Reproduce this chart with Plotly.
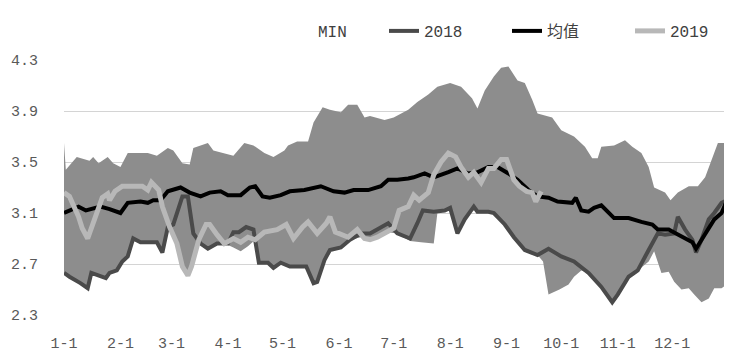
import plotly.graph_objects as go

# ---- data (x = day of year, 0 = Jan 1) ----
month_days = [0, 31, 59, 90, 120, 151, 181, 212, 243, 273, 304, 334]
month_labels = ["1-1", "2-1", "3-1", "4-1", "5-1", "6-1", "7-1", "8-1", "9-1", "10-1", "11-1", "12-1"]
y_ticks = [2.3, 2.7, 3.1, 3.5, 3.9, 4.3]

max_days = [0, 1, 7, 14, 16, 19, 24, 27, 31, 35, 46, 51, 57, 60, 65, 69, 71, 79, 82, 93, 99, 104,
            110, 115, 121, 123, 128, 134, 137, 142, 146, 152, 156, 161, 165, 168, 176, 181, 189,
            194, 200, 205, 212, 218, 224, 227, 231, 236, 240, 244, 249, 253, 257, 260, 268, 273,
            280, 286, 290, 293, 295, 302, 308, 312, 317, 321, 324, 330, 333, 337, 343, 348, 352,
            356, 359, 364]
max_vals = [3.65, 3.44, 3.54, 3.51, 3.54, 3.49, 3.54, 3.49, 3.46, 3.57, 3.57, 3.55, 3.61, 3.59,
            3.49, 3.48, 3.61, 3.65, 3.59, 3.55, 3.65, 3.63, 3.57, 3.54, 3.59, 3.63, 3.66, 3.66,
            3.81, 3.93, 3.91, 3.89, 3.95, 3.95, 3.85, 3.86, 3.83, 3.85, 3.91, 3.97, 4.03, 4.09,
            4.12, 4.09, 4.00, 3.92, 4.06, 4.17, 4.24, 4.25, 4.14, 4.12, 3.99, 3.88, 3.85, 3.75,
            3.70, 3.62, 3.53, 3.53, 3.62, 3.63, 3.67, 3.62, 3.57, 3.46, 3.30, 3.26, 3.20, 3.26,
            3.31, 3.31, 3.38, 3.54, 3.65, 3.65]

min_days = [0, 3, 9, 13, 15, 20, 23, 25, 29, 32, 35, 38, 42, 51, 54, 57, 60, 62, 65, 68, 70, 74,
            75, 79, 84, 88, 90, 93, 97, 101, 105, 107, 112, 115, 119, 124, 133, 137, 139, 143,
            146, 152, 157, 163, 168, 172, 178, 183, 190, 196, 203, 205, 209, 212, 216, 220, 225,
            227, 233, 236, 242, 247, 253, 260, 263, 266, 272, 277, 280, 284, 288, 295, 301, 304,
            310, 315, 321, 324, 328, 332, 335, 339, 343, 346, 350, 354, 357, 361, 364]
min_vals = [2.63, 2.60, 2.55, 2.51, 2.63, 2.61, 2.59, 2.63, 2.65, 2.72, 2.76, 2.90, 2.87, 2.87,
            2.79, 2.99, 2.93, 2.86, 2.68, 2.61, 2.68, 2.86, 2.86, 2.82, 2.86, 2.85, 2.85, 2.83,
            2.80, 2.84, 2.89, 2.71, 2.71, 2.67, 2.71, 2.68, 2.68, 2.55, 2.56, 2.73, 2.81, 2.83,
            2.89, 2.91, 2.89, 2.91, 2.95, 2.94, 2.88, 2.87, 2.86, 3.10, 3.12, 3.14, 2.94, 3.05,
            3.15, 3.11, 3.11, 3.10, 3.01, 2.91, 2.81, 2.77, 2.72, 2.46, 2.50, 2.54, 2.60, 2.65,
            2.63, 2.52, 2.40, 2.46, 2.60, 2.65, 2.72, 2.80, 2.63, 2.64, 2.56, 2.50, 2.51, 2.46,
            2.40, 2.43, 2.51, 2.51, 2.54]

y2018_days = [0, 3, 9, 13, 15, 20, 23, 25, 29, 32, 35, 38, 42, 51, 54, 57, 60, 65, 68, 71, 75, 79,
              84, 90, 93, 96, 100, 104, 107, 112, 115, 119, 124, 133, 137, 139, 143, 146, 152, 157,
              163, 168, 172, 178, 183, 190, 194, 197, 203, 209, 212, 216, 220, 225, 227, 233, 236,
              242, 247, 253, 260, 266, 273, 280, 288, 295, 301, 304, 310, 315, 321, 326, 330, 335,
              337, 341, 345, 347, 350, 354, 357, 361, 364]
y2018_vals = [2.63, 2.60, 2.55, 2.51, 2.63, 2.61, 2.59, 2.63, 2.65, 2.72, 2.76, 2.90, 2.87, 2.87,
              2.79, 2.99, 3.01, 3.23, 3.23, 2.94, 2.86, 2.82, 2.86, 2.86, 2.95, 2.95, 2.99, 2.97,
              2.71, 2.71, 2.67, 2.71, 2.68, 2.68, 2.55, 2.56, 2.73, 2.81, 2.83, 2.89, 2.94, 2.94,
              2.97, 3.02, 2.94, 2.90, 3.02, 3.12, 3.11, 3.12, 3.14, 2.94, 3.05, 3.15, 3.11, 3.11,
              3.10, 3.01, 2.91, 2.81, 2.77, 2.82, 2.76, 2.72, 2.63, 2.52, 2.40, 2.46, 2.60, 2.65,
              2.81, 2.94, 2.93, 2.94, 3.07, 2.97, 2.89, 2.79, 2.89, 3.05, 3.10, 3.18, 3.20]

mean_days = [0, 3, 8, 12, 15, 20, 25, 31, 35, 42, 46, 49, 53, 57, 64, 69, 75, 80, 86, 90, 97, 102,
             105, 109, 113, 119, 124, 132, 141, 148, 154, 159, 167, 174, 178, 183, 189, 192, 198,
             203, 211, 216, 222, 227, 233, 238, 244, 249, 255, 260, 266, 271, 279, 281, 284, 288,
             291, 295, 302, 310, 317, 323, 326, 332, 336, 341, 345, 347, 350, 354, 357, 361, 364]
mean_vals = [3.10, 3.12, 3.15, 3.12, 3.13, 3.15, 3.13, 3.10, 3.18, 3.19, 3.18, 3.20, 3.20, 3.27,
             3.30, 3.26, 3.23, 3.26, 3.27, 3.24, 3.24, 3.30, 3.31, 3.23, 3.22, 3.24, 3.27, 3.28,
             3.31, 3.27, 3.26, 3.28, 3.28, 3.31, 3.36, 3.36, 3.37, 3.38, 3.41, 3.38, 3.42, 3.45,
             3.41, 3.42, 3.46, 3.46, 3.41, 3.36, 3.28, 3.23, 3.22, 3.19, 3.18, 3.22, 3.12, 3.11,
             3.14, 3.16, 3.06, 3.06, 3.03, 3.01, 2.97, 2.97, 2.94, 2.90, 2.87, 2.82, 2.89, 2.99,
             3.05, 3.10, 3.20]

y2019_days = [0, 3, 8, 10, 13, 16, 19, 21, 24, 25, 28, 32, 38, 43, 46, 48, 52, 54, 58, 62, 65, 68,
              70, 74, 78, 80, 84, 88, 93, 97, 101, 105, 110, 117, 122, 126, 131, 134, 139, 144,
              146, 149, 156, 161, 165, 168, 172, 178, 181, 184, 189, 192, 195, 200, 203, 207, 211,
              215, 218, 222, 225, 229, 233, 236, 240, 243, 247, 250, 254, 257, 259, 262]
y2019_vals = [3.26, 3.23, 3.07, 2.98, 2.90, 3.02, 3.15, 3.22, 3.25, 3.20, 3.27, 3.31, 3.31, 3.31,
              3.28, 3.34, 3.28, 3.15, 2.99, 2.86, 2.68, 2.61, 2.68, 2.89, 3.01, 3.01, 2.93, 2.86,
              2.90, 2.87, 2.91, 2.89, 2.95, 2.97, 3.01, 2.90, 2.99, 3.03, 2.94, 3.02, 3.07, 2.95,
              2.91, 2.97, 2.90, 2.89, 2.91, 2.95, 2.98, 3.12, 3.15, 3.24, 3.20, 3.26, 3.40, 3.50,
              3.57, 3.54, 3.46, 3.38, 3.42, 3.34, 3.45, 3.45, 3.52, 3.52, 3.36, 3.31, 3.27, 3.26,
              3.19, 3.27]

FONT = "Liberation Mono, Noto Sans CJK SC, monospace"

fig = go.Figure()

# grey MIN–MAX band
fig.add_trace(go.Scatter(
    x=max_days + min_days[::-1], y=max_vals + min_vals[::-1],
    fill="toself", fillcolor="#8d8d8d", mode="lines", line=dict(width=0),
    showlegend=False, hoverinfo="skip"))

# MIN legend entry (white area in the original -> no visible swatch)
fig.add_trace(go.Scatter(x=[None], y=[None], name="MIN", mode="lines",
                         line=dict(color="rgba(0,0,0,0)", width=3), legend="legend"))

fig.add_trace(go.Scatter(x=y2018_days, y=y2018_vals, name="2018", mode="lines",
                         line=dict(color="#4a4a4a", width=4), legend="legend2"))
fig.add_trace(go.Scatter(x=mean_days, y=mean_vals, name="均值", mode="lines",
                         line=dict(color="#000000", width=4), legend="legend2"))
fig.add_trace(go.Scatter(x=y2019_days, y=y2019_vals, name="2019", mode="lines",
                         line=dict(color="#b8b8b8", width=5), legend="legend2"))

fig.update_layout(
    width=724, height=353,
    margin=dict(l=56, r=5, t=52, b=46, autoexpand=False),
    paper_bgcolor="white", plot_bgcolor="white",
    font=dict(family=FONT, size=15, color="#595959"),
    legend=dict(orientation="h", x=(278 - 64) / 663, xanchor="left",
                y=1 + (60 - 31) / 255, yanchor="middle",
                font=dict(family=FONT, size=16, color="#404040"),
                bgcolor="rgba(0,0,0,0)"),
    legend2=dict(orientation="h", x=(384 - 64) / 663, xanchor="left",
                 y=1 + (60 - 31) / 255, yanchor="middle",
                 entrywidth=78, entrywidthmode="pixels",
                 font=dict(family=FONT, size=16, color="#404040"),
                 bgcolor="rgba(0,0,0,0)"),
    xaxis=dict(range=[0, 364], tickvals=month_days, ticktext=month_labels,
               showgrid=False, zeroline=False, showline=False,
               ticks="outside", ticklen=14, tickcolor="rgba(0,0,0,0)",
               tickfont=dict(family=FONT, size=15, color="#595959")),
    yaxis=dict(range=[2.3, 4.3], tickvals=y_ticks, ticktext=[f"{v:.1f}" for v in y_ticks],
               showgrid=True, gridcolor="#d4d4d4", gridwidth=1, zeroline=False,
               showline=False, ticks="outside", ticklen=22, tickcolor="rgba(0,0,0,0)",
               tickfont=dict(family=FONT, size=15, color="#595959")),
)

fig.write_html("out.html")
